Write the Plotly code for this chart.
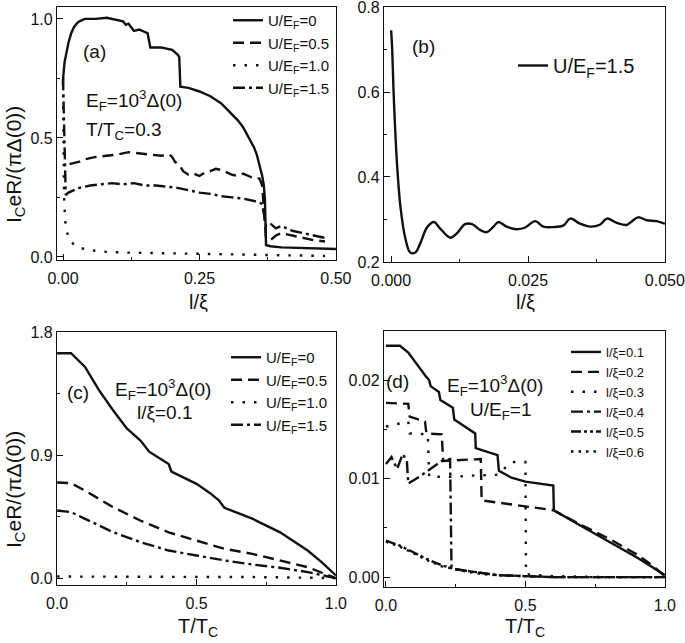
import plotly.graph_objects as go

FONT = "Liberation Sans, Arial, sans-serif"
INK = "#111111"

# ---------------- Panel (a): IcR vs l/xi, T/Tc=0.3 ----------------
a_x_u0 = [0.0, 0.0005, 0.003, 0.006, 0.01, 0.015, 0.02, 0.025, 0.03, 0.04, 0.06, 0.08, 0.10, 0.11, 0.115,
          0.12, 0.13, 0.14, 0.15, 0.155, 0.16, 0.18, 0.19, 0.20, 0.21, 0.213, 0.215, 0.23, 0.25, 0.27, 0.29,
          0.31, 0.32, 0.33, 0.34, 0.35, 0.355, 0.36, 0.365, 0.368, 0.37, 0.372, 0.38, 0.40, 0.43, 0.46, 0.50]
a_y_u0 = [0.73, 0.76, 0.82, 0.86, 0.90, 0.94, 0.965, 0.98, 0.99, 1.0, 1.0, 1.005, 0.995, 0.99, 0.975,
          0.98, 0.95, 0.955, 0.945, 0.94, 0.88, 0.88, 0.875, 0.87, 0.85, 0.84, 0.715, 0.71, 0.695, 0.675, 0.645,
          0.60, 0.575, 0.545, 0.505, 0.46, 0.43, 0.39, 0.34, 0.30, 0.24, 0.05, 0.045, 0.04, 0.038, 0.035, 0.033]

a_x_u05 = [0.012, 0.02, 0.03, 0.04, 0.05, 0.06, 0.08, 0.10, 0.12, 0.14, 0.16, 0.18, 0.195, 0.20, 0.205,
           0.21, 0.215, 0.22, 0.23, 0.24, 0.25, 0.26, 0.27, 0.28, 0.29, 0.30, 0.31, 0.32, 0.33, 0.34, 0.35,
           0.36, 0.365, 0.368, 0.372, 0.38, 0.39, 0.40, 0.42, 0.44, 0.46, 0.48]
a_y_u05 = [0.39, 0.395, 0.40, 0.41, 0.415, 0.42, 0.425, 0.43, 0.44, 0.435, 0.43, 0.425, 0.43, 0.42, 0.40,
           0.39, 0.38, 0.36, 0.345, 0.35, 0.34, 0.355, 0.36, 0.37, 0.365, 0.355, 0.345, 0.34, 0.35, 0.34, 0.33,
           0.33, 0.30, 0.20, 0.08, 0.07, 0.09, 0.10, 0.09, 0.08, 0.07, 0.065]

a_x_u10 = [0.0, 0.002, 0.004, 0.009, 0.02, 0.027, 0.05, 0.08, 0.12, 0.2, 0.3, 0.4, 0.48]
a_y_u10 = [0.73, 0.25, 0.15, 0.087, 0.05, 0.04, 0.028, 0.021, 0.018, 0.015, 0.01, 0.007, 0.004]

a_x_u15 = [0.0, 0.0005, 0.001, 0.002, 0.003, 0.005, 0.01, 0.02, 0.03, 0.05, 0.07, 0.09, 0.11, 0.13, 0.15,
           0.17, 0.19, 0.21, 0.23, 0.25, 0.27, 0.29, 0.31, 0.33, 0.35, 0.36, 0.365, 0.368, 0.372, 0.38,
           0.39, 0.40, 0.42, 0.44, 0.46, 0.48]
a_y_u15 = [0.75, 0.70, 0.58, 0.42, 0.33, 0.26, 0.27, 0.28, 0.29, 0.30, 0.305, 0.31, 0.305, 0.31, 0.30,
           0.30, 0.295, 0.29, 0.28, 0.27, 0.265, 0.255, 0.25, 0.245, 0.235, 0.23, 0.22, 0.18, 0.13, 0.14,
           0.12, 0.13, 0.11, 0.10, 0.09, 0.08]

# ---------------- Panel (b): U/EF=1.5, small l/xi ----------------
b_x = [0.0, 0.0002, 0.0005, 0.0011, 0.0017, 0.0026, 0.0035, 0.0044, 0.0053, 0.0066, 0.0078, 0.009, 0.0108,
       0.012, 0.0135, 0.0148, 0.0163, 0.0175, 0.0187, 0.0196, 0.0211, 0.023, 0.0245, 0.0263, 0.0278, 0.0296,
       0.0315, 0.0327, 0.0345, 0.0364, 0.0382, 0.0394, 0.0412, 0.043, 0.044, 0.0451, 0.0467, 0.0485, 0.05]
b_y = [0.745, 0.70, 0.583, 0.426, 0.33, 0.255, 0.222, 0.222, 0.243, 0.282, 0.294, 0.278, 0.257,
       0.267, 0.289, 0.289, 0.275, 0.27, 0.283, 0.294, 0.283, 0.277, 0.281, 0.296, 0.283, 0.282,
       0.286, 0.302, 0.29, 0.283, 0.288, 0.302, 0.292, 0.287, 0.296, 0.305, 0.298, 0.296, 0.29]

# ---------------- Panel (c): IcR vs T/Tc, l/xi=0.1 ----------------
c_x = [0.0, 0.05, 0.1, 0.15, 0.2, 0.25, 0.3, 0.33, 0.4, 0.41, 0.5, 0.55, 0.58, 0.6, 0.7, 0.8, 0.9, 0.95, 1.0]
c_y_u0 = [1.645, 1.645, 1.545, 1.375, 1.23, 1.095, 1.005, 0.925, 0.835, 0.78, 0.69, 0.62, 0.57, 0.515,
          0.435, 0.335, 0.20, 0.115, 0.02]
c_x_s = [0.0, 0.05, 0.1, 0.2, 0.3, 0.4, 0.5, 0.6, 0.7, 0.8, 0.9, 1.0]
c_y_u05 = [0.70, 0.695, 0.64, 0.52, 0.42, 0.335, 0.275, 0.215, 0.178, 0.13, 0.08, 0.0]
c_y_u10 = [0.012, 0.012, 0.012, 0.012, 0.011, 0.011, 0.010, 0.009, 0.008, 0.006, 0.004, 0.0]
c_y_u15 = [0.495, 0.483, 0.434, 0.337, 0.263, 0.202, 0.166, 0.13, 0.10, 0.076, 0.044, 0.0]

# ---------------- Panel (d): U/EF=1, several l/xi ----------------
d_x_01 = [0.0, 0.05, 0.08, 0.1, 0.12, 0.14, 0.155, 0.16, 0.19, 0.195, 0.24, 0.245, 0.32, 0.322, 0.40,
          0.405, 0.45, 0.5, 0.6, 0.602, 0.7, 0.8, 0.9, 0.95, 1.0]
d_y_01 = [0.0235, 0.0235, 0.0228, 0.022, 0.0213, 0.0205, 0.0200, 0.0194, 0.0188, 0.0180, 0.0172, 0.0160,
          0.0146, 0.0131, 0.0124, 0.0108, 0.0101, 0.0097, 0.0093, 0.0068, 0.0052, 0.0036, 0.0020, 0.0011, 0.0002]
d_x_02 = [0.0, 0.08, 0.085, 0.14, 0.145, 0.2, 0.205, 0.34, 0.343, 0.45, 0.6, 0.7, 0.8, 0.9, 0.95, 1.0]
d_y_02 = [0.0177, 0.0176, 0.0163, 0.0158, 0.0146, 0.0145, 0.0118, 0.0120, 0.0078, 0.0074, 0.0068, 0.0053,
          0.0039, 0.0023, 0.0013, 0.0001]
d_x_03 = [0.0, 0.05, 0.08, 0.085, 0.15, 0.155, 0.25, 0.3, 0.4, 0.45, 0.5, 0.502, 0.6, 0.8, 1.0]
d_y_03 = [0.0153, 0.0156, 0.0158, 0.0146, 0.0145, 0.0102, 0.0102, 0.0103, 0.0104, 0.0117, 0.0117, 0.0003,
          0.0001, 0.0, 0.0]
d_x_04 = [0.0, 0.02, 0.04, 0.06, 0.075, 0.08, 0.12, 0.16, 0.2, 0.23, 0.235, 0.25, 0.3, 0.35, 0.4, 0.5, 0.6, 1.0]
d_y_04 = [0.0115, 0.0122, 0.0110, 0.0125, 0.0118, 0.0095, 0.0102, 0.0110, 0.0118, 0.0120, 0.0010, 0.0008,
          0.0006, 0.0004, 0.0002, 0.0001, 0.0, 0.0]
d_x_05 = [0.0, 0.05, 0.1, 0.15, 0.2, 0.25, 0.3, 0.35, 0.4, 0.5, 0.6, 0.8, 1.0]
d_y_05 = [0.0037, 0.0032, 0.0025, 0.0018, 0.0012, 0.0008, 0.0006, 0.0004, 0.0002, 0.0001, 0.0, 0.0, 0.0]
d_y_06 = [0.0036, 0.0031, 0.0024, 0.0017, 0.0011, 0.0008, 0.0005, 0.0003, 0.0002, 0.0001, 0.0, 0.0, 0.0]

# line styles
SOLID = "solid"
DASH = "11px,6px"
DOT_SPARSE = "2.5px,9px"
DOT_DENSE = "2.5px,5px"
DASHDOT = "12px,4px,3px,4px"
DASHDOTDOT = "10px,3px,3px,3px,3px,3px"
LW = 2.4

fig = go.Figure()


def add(x, y, name, dash, xa, ya, legend, shape="linear"):
    fig.add_trace(go.Scatter(x=x, y=y, name=name, mode="lines",
                             line=dict(color=INK, width=LW, dash=dash, shape=shape),
                             xaxis=xa, yaxis=ya, legend=legend))


UEF = "U/E<sub>F</sub>="
add(a_x_u0, a_y_u0, UEF + "0", SOLID, "x", "y", "legend")
add(a_x_u05, a_y_u05, UEF + "0.5", DASH, "x", "y", "legend")
add(a_x_u10, a_y_u10, UEF + "1.0", DOT_SPARSE, "x", "y", "legend")
add(a_x_u15, a_y_u15, UEF + "1.5", DASHDOT, "x", "y", "legend")

add(b_x, b_y, UEF + "1.5", SOLID, "x2", "y2", "legend2", shape="spline")

add(c_x, c_y_u0, UEF + "0", SOLID, "x3", "y3", "legend3")
add(c_x_s, c_y_u05, UEF + "0.5", DASH, "x3", "y3", "legend3")
add(c_x_s, c_y_u10, UEF + "1.0", DOT_SPARSE, "x3", "y3", "legend3")
add(c_x_s, c_y_u15, UEF + "1.5", DASHDOT, "x3", "y3", "legend3")

LX = "l/ξ="
add(d_x_01, d_y_01, LX + "0.1", SOLID, "x4", "y4", "legend4")
add(d_x_02, d_y_02, LX + "0.2", DASH, "x4", "y4", "legend4")
add(d_x_03, d_y_03, LX + "0.3", DOT_SPARSE, "x4", "y4", "legend4")
add(d_x_04, d_y_04, LX + "0.4", DASHDOT, "x4", "y4", "legend4")
add(d_x_05, d_y_05, LX + "0.5", DASHDOTDOT, "x4", "y4", "legend4")
add(d_x_05, d_y_06, LX + "0.6", DOT_DENSE, "x4", "y4", "legend4")

W, H = 685, 643


def px_x(p):
    return p / W


def px_y(p):
    return 1 - p / H


def axis(domain_px, rng, tickvals, ticktext, minor_dtick, horizontal, anchor):
    if horizontal:
        dom = [px_x(domain_px[0]), px_x(domain_px[1])]
    else:
        dom = [px_y(domain_px[1]), px_y(domain_px[0])]
    d = dict(domain=dom, range=rng, tickmode="array", tickvals=tickvals, ticktext=ticktext,
             ticks="inside", ticklen=6, tickwidth=1.3, tickcolor=INK,
             showline=True, linecolor=INK, linewidth=1.3, mirror=True,
             showgrid=False, zeroline=False, anchor=anchor, automargin=False,
             ticklabeloverflow="allow",
             tickfont=dict(family=FONT, size=16, color=INK),
             minor=dict(ticks="inside", ticklen=3, tickwidth=1.1, tickcolor=INK, dtick=minor_dtick,
                        showgrid=False),
             fixedrange=True)
    if horizontal:
        d["ticklabelstandoff"] = 4
    return d


layout = dict(
    width=W, height=H, margin=dict(l=0, r=0, t=0, b=0, autoexpand=False),
    paper_bgcolor="white", plot_bgcolor="white",
    font=dict(family=FONT, color=INK),
    xaxis=axis((57, 336), [-0.011, 0.5002], [0, 0.25, 0.5], ["0.00", "0.25", "0.50"], 0.125, True, "y"),
    yaxis=axis((7, 260), [-0.013, 1.05], [0, 0.5, 1.0], ["0.0", "0.5", "1.0"], 0.25, False, "x"),
    xaxis2=axis((384, 665), [-0.0013, 0.05002], [0, 0.025, 0.05], ["0.000", "0.025", "0.050"], 0.0125, True, "y2"),
    yaxis2=axis((7, 262), [0.1998, 0.8002], [0.2, 0.4, 0.6, 0.8], ["0.2", "0.4", "0.6", "0.8"], 0.1, False, "x2"),
    xaxis3=axis((57, 336), [-0.0005, 1.0005], [0, 0.5, 1.0], ["0.0", "0.5", "1.0"], 0.25, True, "y3"),
    yaxis3=axis((332, 585), [-0.05, 1.8005], [0, 0.9, 1.8], ["0.0", "0.9", "1.8"], 0.45, False, "x3"),
    xaxis4=axis((384, 665), [-0.007, 1.0005], [0, 0.5, 1.0], ["0.0", "0.5", "1.0"], 0.25, True, "y4"),
    yaxis4=axis((331, 587), [-0.001, 0.025], [0, 0.01, 0.02], ["0.00", "0.01", "0.02"], 0.005, False, "x4"),
)


def leg(xp, yp, size):
    return dict(x=px_x(xp), y=px_y(yp), xanchor="left", yanchor="top", xref="paper", yref="paper",
                bgcolor="rgba(0,0,0,0)", borderwidth=0, font=dict(family=FONT, size=size, color=INK),
                itemwidth=30, tracegroupgap=0)


layout["legend"] = leg(228, 4, 15)
layout["legend2"] = leg(513, 46, 20)
layout["legend3"] = leg(226, 341, 15)
layout["legend4"] = leg(566, 337, 13)

fig.update_layout(**layout)


def note(text, xp, yp, size=19, angle=0):
    fig.add_annotation(text=text, x=px_x(xp), y=px_y(yp), xref="paper", yref="paper",
                       showarrow=False, xanchor="center", yanchor="middle", textangle=angle,
                       font=dict(family=FONT, size=size, color=INK))


EF = "E<sub>F</sub>=10<sup>3</sup>Δ(0)"
note("(a)", 94, 52)
note(EF, 134, 100)
note("T/T<sub>C</sub>=0.3", 124, 131)
note("(b)", 423, 47)
note("(c)", 78, 392)
note(EF, 163, 390)
note("l/ξ=0.1", 165, 412)
note("(d)", 397, 381)
note(EF, 495, 385)
note("U/E<sub>F</sub>=1", 500, 411)

YT = "I<sub>C</sub>eR/(πΔ(0))"
note(YT, 15, 165, 21, -90)
note(YT, 15, 490, 21, -90)
note("l/ξ", 198, 302, 20)
note("l/ξ", 525, 302, 20)
note("T/T<sub>C</sub>", 198, 627, 20)
note("T/T<sub>C</sub>", 525, 627, 20)

fig.write_html("out.html", config={"displayModeBar": False},
               post_script="document.body.style.margin='0';")
